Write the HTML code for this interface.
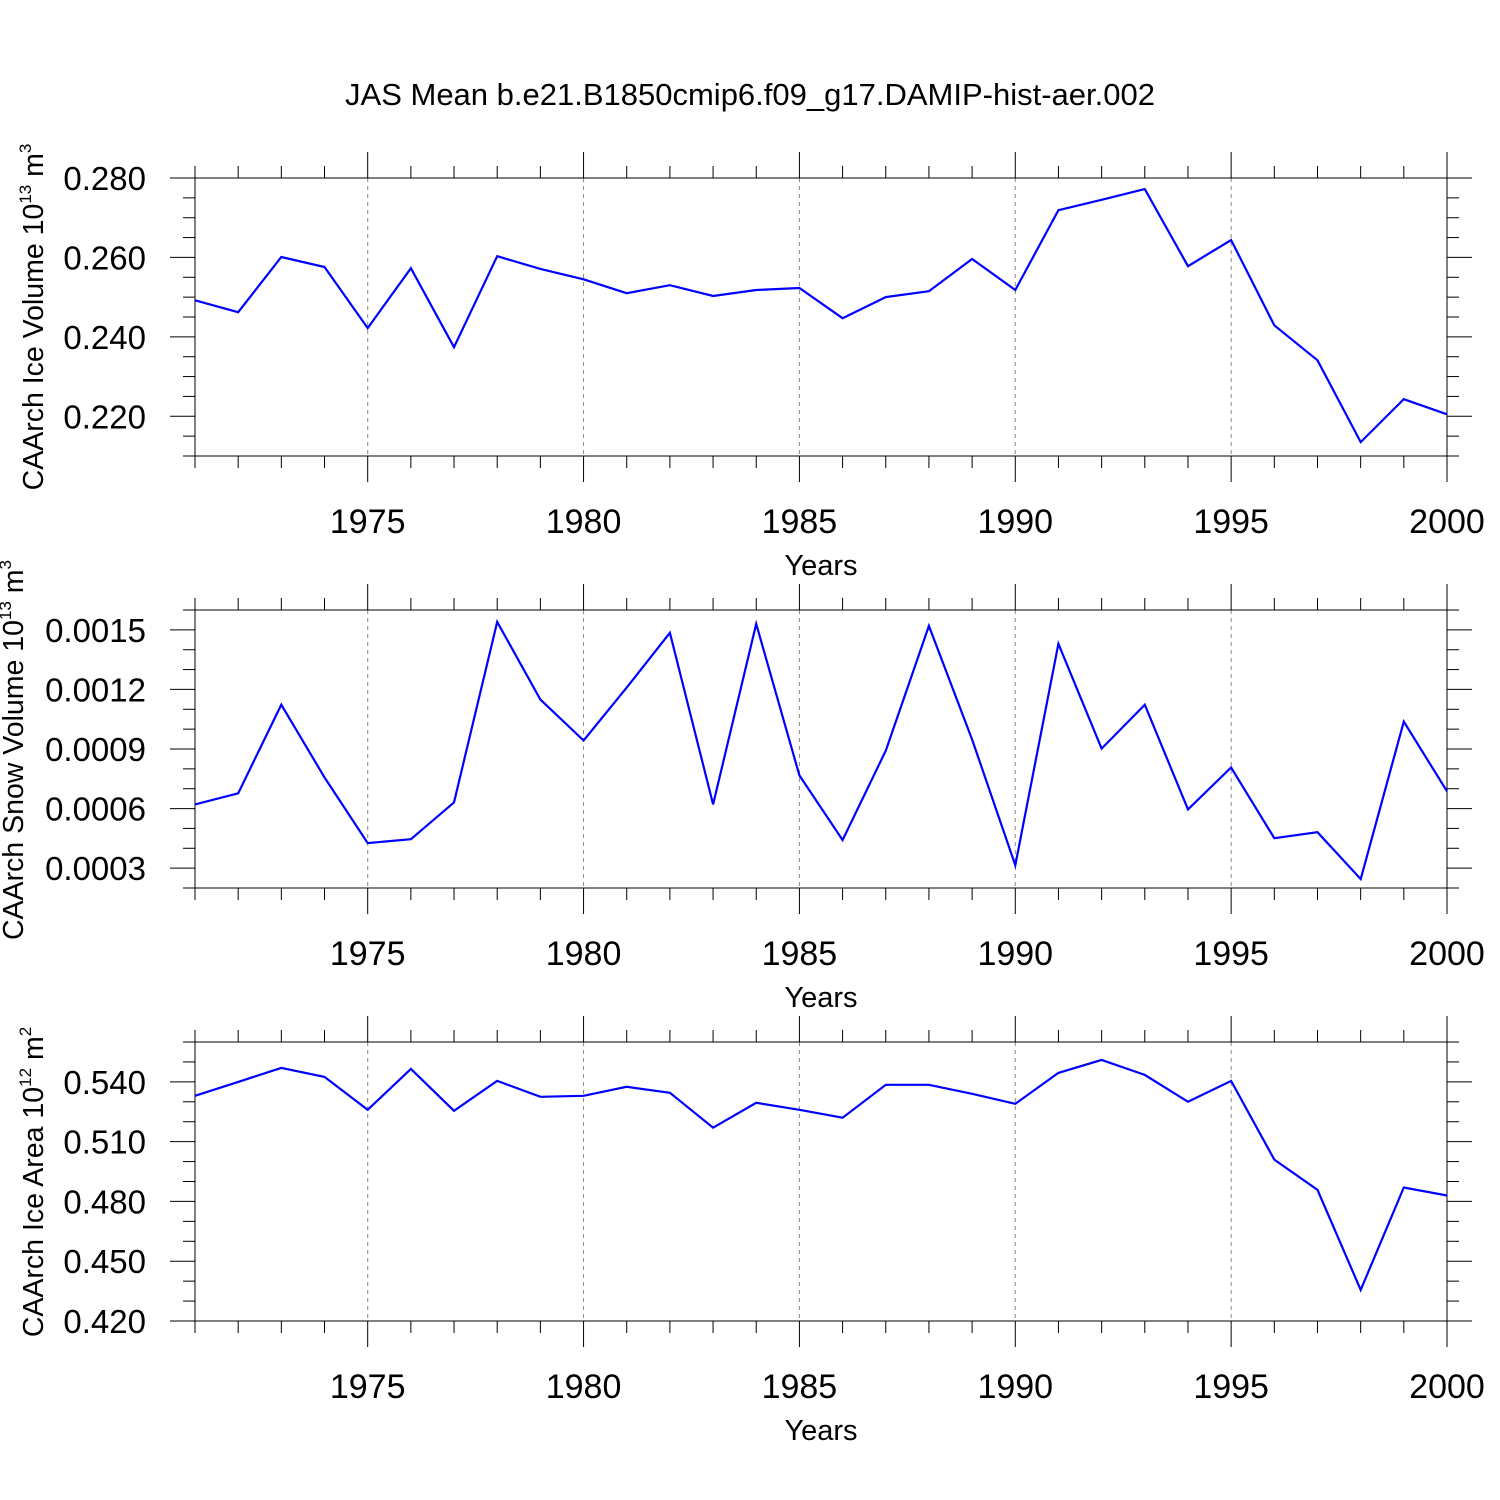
<!DOCTYPE html>
<html><head><meta charset="utf-8"><style>
html,body{margin:0;padding:0;background:#fff;}
svg{display:block;font-family:"Liberation Sans",sans-serif;}
</style></head><body>
<svg id="chart" width="1500" height="1500" viewBox="0 0 1500 1500" xmlns="http://www.w3.org/2000/svg">
<rect width="1500" height="1500" fill="#fff"/>
<text x="750" y="105" text-anchor="middle" font-size="31">JAS Mean b.e21.B1850cmip6.f09_g17.DAMIP-hist-aer.002</text>
</svg>
<script>
const years = [1971,1972,1973,1974,1975,1976,1977,1978,1979,1980,1981,1982,1983,1984,1985,1986,1987,1988,1989,1990,1991,1992,1993,1994,1995,1996,1997,1998,1999,2000];
const iceVolume = [0.2492,0.2462,0.2601,0.2576,0.2422,0.2573,0.2374,0.2603,0.2571,0.2545,0.2510,0.2530,0.2503,0.2518,0.2523,0.2447,0.2500,0.2515,0.2596,0.2518,0.2719,0.2745,0.2772,0.2578,0.2644,0.2429,0.2341,0.2135,0.2243,0.2205];
const snowVolume = [0.000621,0.000677,0.001123,0.000757,0.000426,0.000446,0.000631,0.00154,0.001149,0.000943,0.001209,0.001485,0.000621,0.00153,0.000767,0.000441,0.000892,0.00152,0.000948,0.000315,0.00143,0.000902,0.001123,0.000596,0.000807,0.000451,0.000481,0.000245,0.001038,0.000687];
const iceArea = [0.533,0.540,0.547,0.5425,0.526,0.5465,0.5255,0.5405,0.5325,0.533,0.5375,0.5345,0.517,0.5295,0.526,0.522,0.5385,0.5385,0.534,0.529,0.5445,0.551,0.5435,0.530,0.5405,0.501,0.4858,0.4356,0.487,0.483];
const xTickLabels = ["1975","1980","1985","1990","1995","2000"];
const volTicks = ["0.220","0.240","0.260","0.280"];
const snowTicks = ["0.0003","0.0006","0.0009","0.0012","0.0015"];
const areaTicks = ["0.420","0.450","0.480","0.510","0.540"];

const NS="http://www.w3.org/2000/svg";
const svg=document.getElementById('chart');
function mk(tag,attrs,parent){const e=document.createElementNS(NS,tag);for(const k in attrs)e.setAttribute(k,attrs[k]);(parent||svg).appendChild(e);return e;}
const X0=195,X1=1447;
const xs=y=>X0+(y-1971)*(X1-X0)/29;

const panels=[
 {key:'ice-volume',top:178,bot:456,ymin:0.21,ymax:0.28,minor:0.005,ticks:volTicks,data:iceVolume,title:'CAArch Ice Volume 10',sup:'13',unit:' m',usup:'3',tx:30,tcy:317},
 {key:'snow-volume',top:610,bot:888,ymin:0.0002,ymax:0.0016,minor:0.0001,ticks:snowTicks,data:snowVolume,title:'CAArch Snow Volume 10',sup:'13',unit:' m',usup:'3',tx:10,tcy:750},
 {key:'ice-area',top:1042,bot:1321,ymin:0.42,ymax:0.56,minor:0.01,ticks:areaTicks,data:iceArea,title:'CAArch Ice Area 10',sup:'12',unit:' m',usup:'2',tx:30,tcy:1182}
];
panels.forEach(p=>{
 const g=mk('g',{});
 
 
 const ys=v=>p.bot-(v-p.ymin)*(p.bot-p.top)/(p.ymax-p.ymin);
 xTickLabels.forEach(t=>{const x=xs(+t); if(x<X1-1){const l=mk('line',{x1:x,x2:x,y1:p.top,y2:p.bot,stroke:'#888','stroke-width':1,'stroke-dasharray':'4,4'},g);
  
  }});
 const fr=mk('rect',{x:X0,y:p.top,width:X1-X0,height:p.bot-p.top,fill:'none',stroke:'#000','stroke-width':1},g);
 
 
 years.forEach(y=>{const x=xs(y);const major=y%5===0;const L=major?26:12;
  mk('line',{x1:x,x2:x,y1:p.top,y2:p.top-L,stroke:'#000'},g);
  mk('line',{x1:x,x2:x,y1:p.bot,y2:p.bot+L,stroke:'#000'},g);});
 xTickLabels.forEach(t=>{const e=mk('text',{x:xs(+t),y:p.bot+77,'text-anchor':'middle','font-size':34},g);e.textContent=t;
  
  });
 const xt=mk('text',{x:821,y:p.bot+119,'text-anchor':'middle','font-size':29},g);xt.textContent='Years';
 
 
 const n=Math.round((p.ymax-p.ymin)/p.minor);
 const first=+p.ticks[0];const step=+p.ticks[1]-first;
 for(let i=0;i<=n;i++){const v=p.ymin+i*p.minor;const y=ys(v);
  const r=(v-first)/step;const major=Math.abs(r-Math.round(r))<1e-6;const L=major?25:12;
  mk('line',{x1:X0,x2:X0-L,y1:y,y2:y,stroke:'#000'},g);
  mk('line',{x1:X1,x2:X1+L,y1:y,y2:y,stroke:'#000'},g);}
 p.ticks.forEach(t=>{const e=mk('text',{x:146,y:ys(+t)+12,'text-anchor':'end','font-size':33},g);e.textContent=t;
  
  });
 const yt=mk('text',{transform:`translate(${p.tx+13},${p.tcy}) rotate(-90)`,'text-anchor':'middle','font-size':28.5},g);
 
 
 const s1=mk('tspan',{},yt);s1.textContent=p.title;
 const s2=mk('tspan',{dy:-12,'font-size':17},yt);s2.textContent=p.sup;
 const s3=mk('tspan',{dy:12},yt);s3.textContent=p.unit;
 const s4=mk('tspan',{dy:-12,'font-size':17},yt);s4.textContent=p.usup;
 const pts=p.data.map((v,i)=>xs(years[i]).toFixed(1)+','+ys(v).toFixed(1)).join(' ');
 const pl=mk('polyline',{points:pts,fill:'none',stroke:'#0000ff','stroke-width':2.2,'stroke-linejoin':'miter'},g);
 
 
});
</script>
</body></html>
